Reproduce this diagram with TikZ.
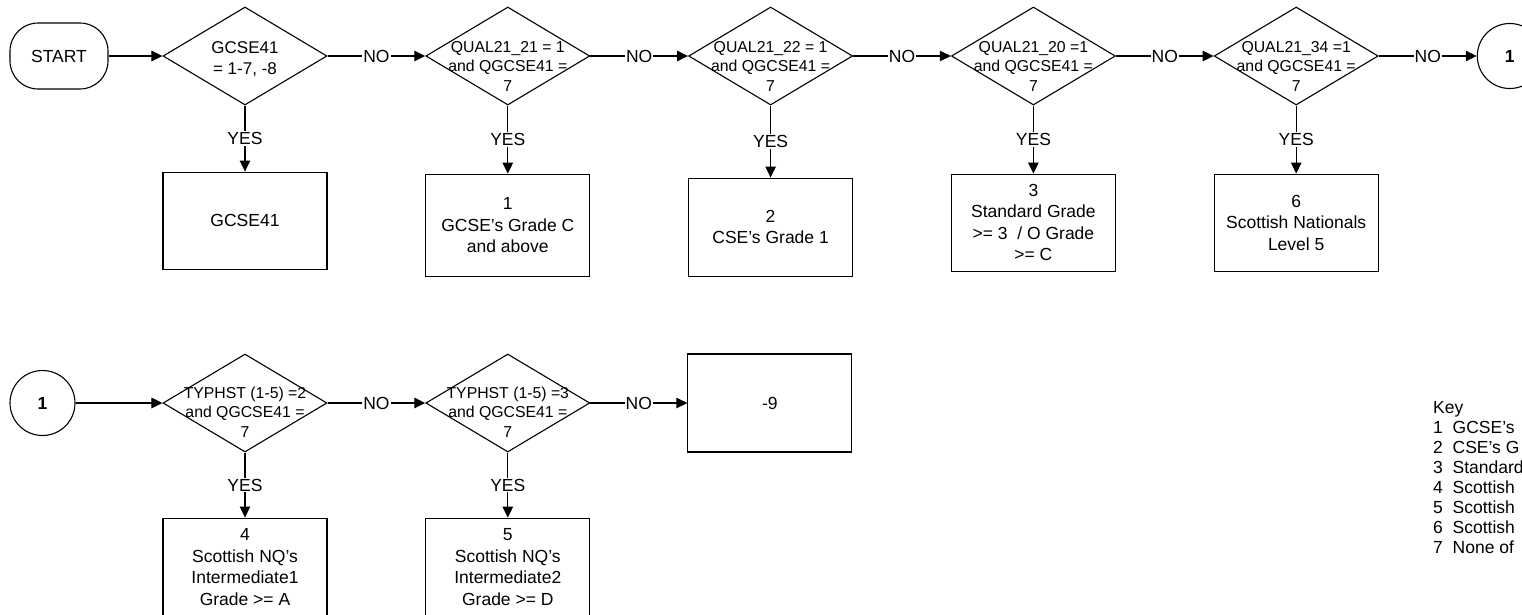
\documentclass[tikz,border=0pt]{standalone}
\usepackage{fontspec}
\setmainfont{Liberation Sans}
\usetikzlibrary{positioning, shapes.geometric, arrows.meta}

\begin{document}
\begin{tikzpicture}[x=1pt, y=1pt, node distance=97.7pt]
	% styles
	\tikzstyle{term} = [draw, line width=1.1pt, rounded corners=28pt, minimum width=98pt, minimum height=66pt, font=\fontsize{17.5}{21}\selectfont]
	\tikzstyle{decision} = [draw, diamond, line width=1.1pt, minimum width=164pt, minimum height=98pt, inner sep=0pt]
	\tikzstyle{cond} = [align=center, inner sep=0pt, font=\fontsize{15.8}{19.5}\selectfont]
	\tikzstyle{outcome} = [draw, rectangle, line width=1.1pt, minimum width=164pt, align=center, font=\fontsize{17.5}{21.5}\selectfont]
	\tikzstyle{conn} = [draw, circle, line width=1.1pt, minimum size=65pt, inner sep=0pt, font=\bfseries\fontsize{17.5}{21}\selectfont]
	\tikzstyle{arrow} = [line width=1.1pt, -{Triangle[length=11pt,width=10.5pt]}]
	\tikzstyle{lab} = [fill=white, inner sep=1pt, font=\fontsize{17.5}{21}\selectfont]
	\tikzstyle{keytext} = [align=left, inner sep=0pt, anchor=north west, font=\fontsize{17.5}{20}\selectfont]

	\useasboundingbox (0,0) rectangle (1522,-614);

	% first row
	\node [term] (start) at (59,-56) {START};
	\node [decision] (q1) at (245,-56) {};
	\node [decision, right=of q1] (q2) {};
	\node [decision, right=of q2] (q3) {};
	\node [decision, right=of q3] (q4) {};
	\node [decision, right=of q4] (q5) {};
	\node [conn, right=98pt of q5] (c1) {1};

	\node [cond, font=\fontsize{17}{21.5}\selectfont] (t1) at ([yshift=-3pt]q1.center) {GCSE41\\= 1-7, -8};
	\node [cond] (t2) at ([yshift=-10pt]q2.center) {QUAL21\_21 = 1\\and QGCSE41 =\\7};
	\node [cond] (t3) at ([yshift=-10pt]q3.center) {QUAL21\_22 = 1\\and QGCSE41 =\\7};
	\node [cond] (t4) at ([yshift=-10pt]q4.center) {QUAL21\_20 =1\\and QGCSE41 =\\7};
	\node [cond] (t5) at ([yshift=-10pt]q5.center) {QUAL21\_34 =1\\and QGCSE41 =\\7};

	\node [outcome, minimum height=97pt, below=66pt of q1] (r1) {GCSE41};
	\node [outcome, minimum height=102pt, below=68pt of q2] (r2) {1\\GCSE's Grade C\\and above};
	\node [outcome, minimum height=98pt, below=72pt of q3] (r3) {2\\CSE's Grade 1};
	\node [outcome, minimum height=97pt, below=68pt of q4] (r4) {3\\Standard Grade\\>= 3~ / O Grade\\>= C};
	\node [outcome, minimum height=97pt, below=68pt of q5] (r6) {6\\Scottish Nationals\\Level 5};

	% second row
	\node [conn] (c2) at (42.5,-403) {1};
	\node [decision] (q6) at (245,-403) {};
	\node [decision, right=of q6] (q7) {};
	\node [outcome, minimum height=98pt, right=97pt of q7] (r9) {-9};

	\node [cond] (t6) at ([yshift=-9pt]q6.center) {TYPHST (1-5) =2\\and QGCSE41 =\\7};
	\node [cond] (t7) at ([yshift=-9pt]q7.center) {TYPHST (1-5) =3\\and QGCSE41 =\\7};

	\node [outcome, minimum height=98pt, below=65pt of q6] (r7) {4\\Scottish NQ's\\Intermediate1\\Grade >= A};
	\node [outcome, minimum height=98pt, below=65pt of q7] (r8) {5\\Scottish NQ's\\Intermediate2\\Grade >= D};

	% key
	\node [keytext] (key) at (1433,-401.5) {Key\\1~~GCSE's\\2~~CSE's G\\3~~Standard\\4~~Scottish\\5~~Scottish\\6~~Scottish\\7~~None of};

	% arrows
	\draw [arrow] (start) -- (q1);
	\draw [arrow] (q1) -- node[lab] {NO} (q2);
	\draw [arrow] (q2) -- node[lab] {NO} (q3);
	\draw [arrow] (q3) -- node[lab] {NO} (q4);
	\draw [arrow] (q4) -- node[lab] {NO} (q5);
	\draw [arrow] (q5) -- node[lab] {NO} (c1);
	\draw [arrow] (q1) -- node[lab] {YES} (r1);
	\draw [arrow] (q2) -- node[lab] {YES} (r2);
	\draw [arrow] (q3) -- node[lab] {YES} (r3);
	\draw [arrow] (q4) -- node[lab] {YES} (r4);
	\draw [arrow] (q5) -- node[lab] {YES} (r6);

	\draw [arrow] (c2) -- (q6);
	\draw [arrow] (q6) -- node[lab] {NO} (q7);
	\draw [arrow] (q7) -- node[lab] {NO} (r9);
	\draw [arrow] (q6) -- node[lab] {YES} (r7);
	\draw [arrow] (q7) -- node[lab] {YES} (r8);
\end{tikzpicture}
\end{document}
